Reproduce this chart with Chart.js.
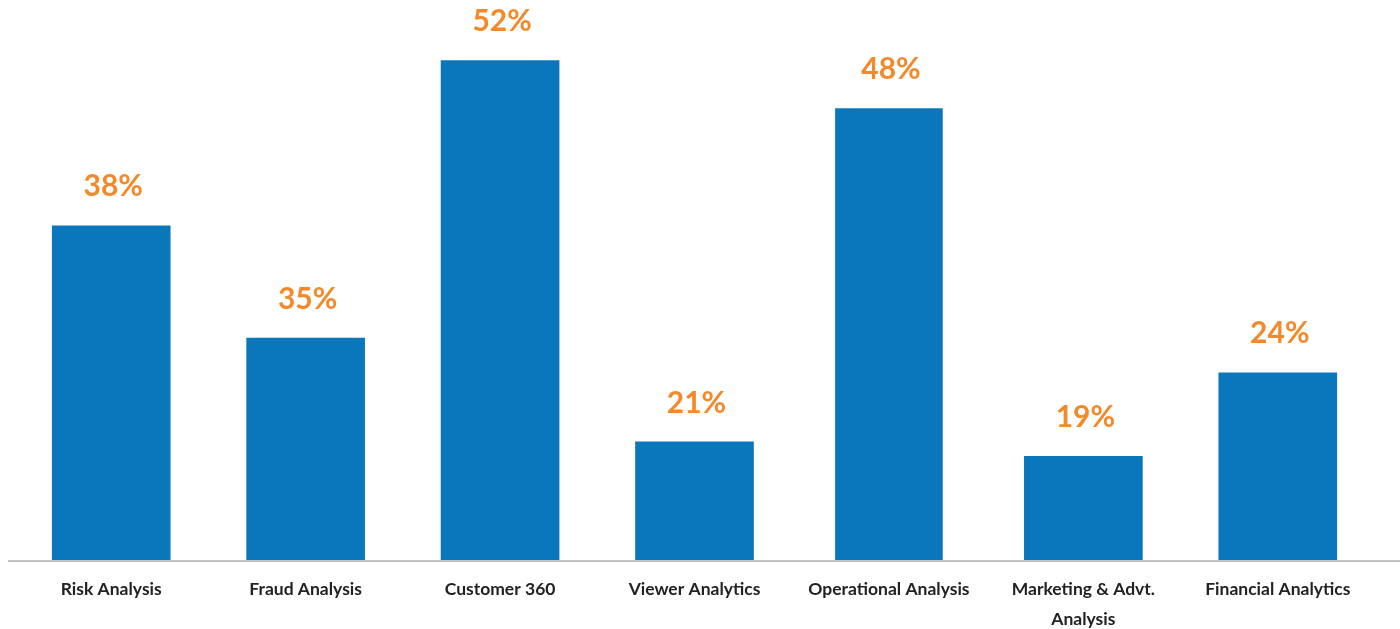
<!DOCTYPE html>
<html>
<head>
<meta charset="utf-8">
<script src="https://cdn.jsdelivr.net/npm/chart.js@4.4.1/dist/chart.umd.min.js"></script>
<style>
  html, body { margin: 0; padding: 0; background: #fff; }
  #wrap { width: 1400px; height: 629px; }
</style>
</head>
<body>
<div id="wrap"><canvas id="useCases"></canvas></div>
<script>
// categories on the x axis (multi-line where the picture wraps)
var categories = [
    'Risk Analysis',
    'Fraud Analysis',
    'Customer 360',
    'Viewer Analytics',
    'Operational Analysis',
    ['Marketing & Advt.', 'Analysis'],
    'Financial Analytics'
];
// percentages printed above the bars
var shares = [38, 35, 52, 21, 48, 19, 24];
// bar heights as drawn in the picture (52% bar taken as 52)
var barValues = [34.8, 23.1, 52, 12.3, 47.0, 10.8, 19.5];

var BLUE = '#0A77BD';
var ORANGE = '#F4892A';

// the operational bar is drawn a bit narrower in the original
var wide = barValues.map((v, i) => i === 4 ? null : v);
var narrow = barValues.map((v, i) => i === 4 ? v : null);

var pctLabels = {
    id: 'pctLabels',
    afterDatasetsDraw(chart) {
        var ctx = chart.ctx;
        ctx.save();
        ctx.fillStyle = ORANGE;
        ctx.font = 'bold 30px Lato';
        ctx.textAlign = 'center';
        ctx.textBaseline = 'middle';
        chart.data.datasets.forEach((ds, di) => {
            chart.getDatasetMeta(di).data.forEach((bar, i) => {
                if (ds.data[i] == null) return;
                ctx.fillText(shares[i] + '%', bar.x + 2, bar.y - 39);
            });
        });
        // baseline across the whole width
        var y = chart.scales.x.top + 1;
        ctx.strokeStyle = '#C4C4C4';
        ctx.lineWidth = 2;
        ctx.beginPath();
        ctx.moveTo(8, y);
        ctx.lineTo(chart.width, y);
        ctx.stroke();
        ctx.restore();
    }
};

var ctx = document.getElementById('useCases').getContext('2d');
var chart = new Chart(ctx, {
    type: 'bar',
    data: {
        labels: categories,
        datasets: [{
            data: wide,
            backgroundColor: BLUE,
            barThickness: 118,
            grouped: false
        }, {
            data: narrow,
            backgroundColor: BLUE,
            barThickness: 107,
            grouped: false
        }]
    },
    options: {
        responsive: true,
        maintainAspectRatio: false,
        animation: false,
        layout: { padding: { left: 14, right: 25, top: 3, bottom: 0 } },
        plugins: {
            legend: { display: false },
            tooltip: { enabled: false }
        },
        scales: {
            x: {
                grid: { display: false, drawTicks: false },
                border: { display: false },
                ticks: {
                    color: '#222',
                    font: { family: 'Lato', size: 17.5, weight: 'bold', lineHeight: 1.714 },
                    padding: 14,
                    maxRotation: 0,
                    autoSkip: false
                },
                afterFit(scale) { scale.height = 69; }
            },
            y: {
                display: false,
                min: 0,
                max: 58
            }
        }
    },
    plugins: [pctLabels]
});
</script>
</body>
</html>
